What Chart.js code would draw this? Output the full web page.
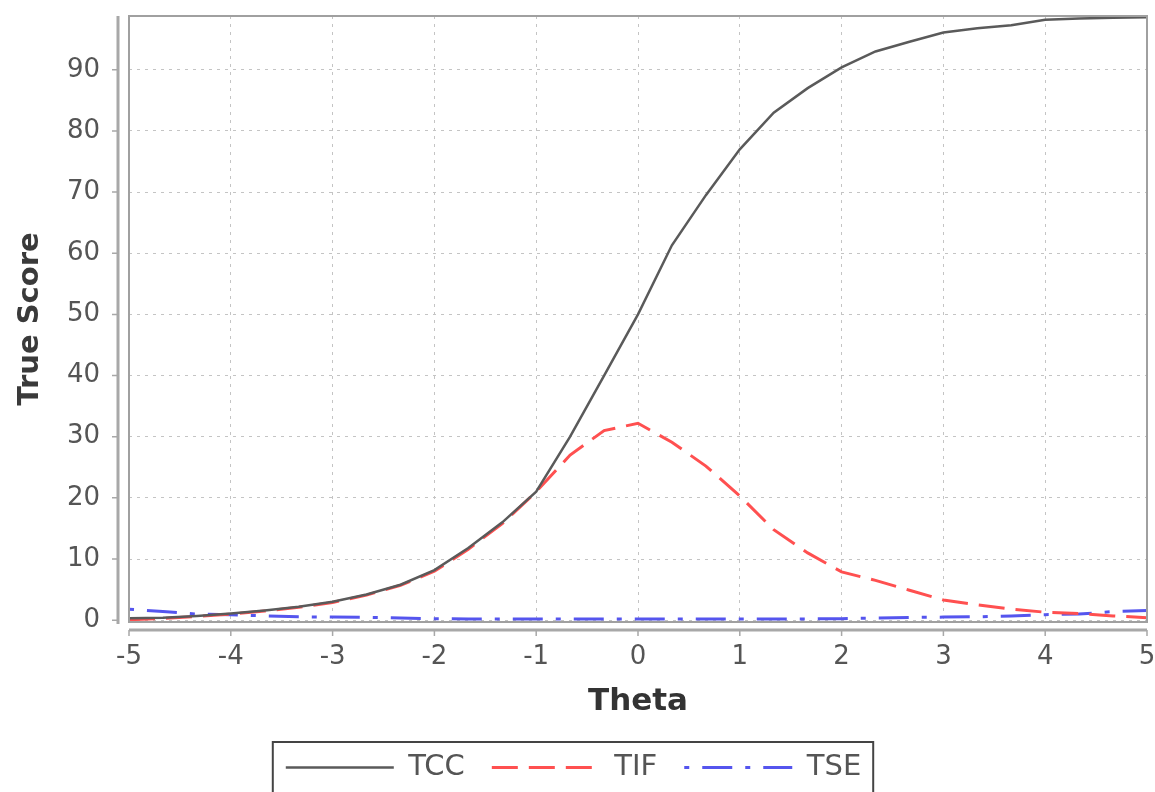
<!DOCTYPE html>
<html>
<head>
<meta charset="utf-8">
<title>TCC / TIF / TSE</title>
<script src="https://cdn.jsdelivr.net/npm/chart.js@4/dist/chart.umd.min.js"></script>
<style>
  body { margin: 0; background: #fff; }
  canvas { display: block; }
</style>
</head>
<body>
<canvas id="myChart" width="1155" height="792"></canvas>
<script>
// start data //
const theta = [-5, -4.667, -4.333, -4, -3.667, -3.333, -3, -2.667, -2.333, -2, -1.667, -1.333, -1, -0.667, -0.333, 0,
  0.333, 0.667, 1, 1.333, 1.667, 2, 2.333, 2.667, 3, 3.333, 3.667, 4, 4.333, 4.667, 5];
const tcc = [0.3, 0.4, 0.7, 1.1, 1.6, 2.2, 3.0, 4.2, 5.8, 8.2, 11.8, 16, 21, 30, 40, 50,
  61.3, 69.5, 77, 83, 87, 90.4, 93, 94.6, 96.1, 96.8, 97.3, 98.2, 98.4, 98.5, 98.6];
const tif = [0.05, 0.3, 0.6, 1.0, 1.5, 2.1, 2.9, 4.1, 5.7, 8.0, 11.6, 15.8, 21, 27, 31, 32.2,
  29.1, 25.2, 20.3, 14.8, 11, 7.9, 6.5, 4.9, 3.3, 2.5, 1.8, 1.3, 1.1, 0.7, 0.4];
const tse = [1.8, 1.4, 1.0, 0.9, 0.7, 0.55, 0.5, 0.45, 0.35, 0.25, 0.2, 0.2, 0.18, 0.18, 0.18, 0.18,
  0.18, 0.18, 0.18, 0.2, 0.2, 0.25, 0.35, 0.45, 0.5, 0.55, 0.7, 0.9, 1.0, 1.4, 1.6];
const xTicks = [-5, -4, -3, -2, -1, 0, 1, 2, 3, 4, 5];
const yTicks = [0, 10, 20, 30, 40, 50, 60, 70, 80, 90];
// end data //

const font = "'DejaVu Sans', sans-serif";

function pts(values) {
  return theta.map((t, i) => ({x: t, y: values[i]}));
}

// no extra room for the end labels, the layout padding does that
function noPad(s) {
  s.paddingTop = 0;
  s.paddingBottom = 0;
  s.paddingLeft = 0;
  s.paddingRight = 0;
}

// plot frame, offset axis lines and the box round the legend
const frame = {
  id: "frame",
  afterDraw(chart) {
    const ctx = chart.ctx;
    const a = chart.chartArea;
    const xs = chart.scales.x, ys = chart.scales.y;
    ctx.save();
    ctx.strokeStyle = "#a0a0a0";
    ctx.lineWidth = 2;
    ctx.strokeRect(a.left, a.top, a.right - a.left, a.bottom - a.top);

    ctx.strokeStyle = "#a8a8a8";
    ctx.lineWidth = 3;
    ctx.beginPath();
    ctx.moveTo(a.left - 11, a.top);
    ctx.lineTo(a.left - 11, a.bottom + 2);
    ctx.moveTo(a.left, a.bottom + 8);
    ctx.lineTo(a.right, a.bottom + 8);
    ctx.stroke();

    ctx.lineWidth = 1.5;
    ctx.beginPath();
    yTicks.forEach(v => {
      const y = ys.getPixelForValue(v);
      ctx.moveTo(a.left - 17, y);
      ctx.lineTo(a.left - 11, y);
    });
    xTicks.forEach(v => {
      const x = xs.getPixelForValue(v);
      ctx.moveTo(x, a.bottom + 8);
      ctx.lineTo(x, a.bottom + 14);
    });
    ctx.stroke();

    const hb = chart.legend.legendHitBoxes;
    if (hb && hb.length) {
      const l = Math.min(...hb.map(h => h.left)) - 13;
      const r = Math.max(...hb.map(h => h.left + h.width)) + 12;
      const t = hb[0].top - 11;
      ctx.strokeStyle = "#444";
      ctx.lineWidth = 2;
      ctx.strokeRect(l, t, r - l, 80);
    }
    ctx.restore();
  }
};

new Chart("myChart", {
  type: "line",
  data: {
    datasets: [
      {label: "TCC", data: pts(tcc), borderColor: "#5a5a5a", borderWidth: 2.5, borderDash: []},
      {label: "TIF", data: pts(tif), borderColor: "#ff5050", borderWidth: 3, borderDash: [26, 11]},
      {label: "TSE", data: pts(tse), borderColor: "#5555ee", borderWidth: 3, borderDash: [5, 13, 30, 13]}
    ]
  },
  options: {
    responsive: false,
    animation: false,
    layout: {padding: {top: 16, right: 8, bottom: 0, left: 0}},
    elements: {point: {radius: 0}, line: {tension: 0}},
    plugins: {
      tooltip: {enabled: false},
      legend: {
        position: "bottom",
        labels: {
          usePointStyle: true,
          pointStyleWidth: 108,
          padding: 27,
          color: "#555",
          font: {family: font, size: 29},
          generateLabels: chart => chart.data.datasets.map((ds, i) => ({
            text: ds.label,
            strokeStyle: ds.borderColor,
            fillStyle: ds.borderColor,
            lineWidth: ds.borderWidth,
            lineDash: ds.borderDash,
            pointStyle: "line",
            fontColor: "#555",
            hidden: false,
            datasetIndex: i
          }))
        }
      }
    },
    scales: {
      x: {
        type: "linear",
        min: -5,
        max: 5,
        afterBuildTicks: s => { s.ticks = xTicks.map(v => ({value: v})); },
        afterFit: s => { s.height = 104; noPad(s); },
        grid: {color: "#c4c4c4", lineWidth: 1, drawTicks: false},
        border: {display: false, dash: [3, 5]},
        ticks: {padding: 20, color: "#555", font: {family: font, size: 26}, maxRotation: 0},
        title: {display: true, text: "Theta", color: "#333", font: {family: font, size: 31, weight: "bold"}, padding: {top: 0, bottom: 5}}
      },
      y: {
        min: -0.3,
        max: 98.8,
        afterBuildTicks: s => { s.ticks = yTicks.map(v => ({value: v})); },
        afterFit: s => { s.width = 129; noPad(s); },
        grid: {color: "#c4c4c4", lineWidth: 1, drawTicks: false},
        border: {display: false, dash: [3, 5]},
        ticks: {padding: 29, color: "#555", font: {family: font, size: 26}},
        title: {display: true, text: "True Score", color: "#3a3a3a", font: {family: font, size: 29, weight: "bold"}, padding: {top: 13, bottom: 0}}
      }
    }
  },
  plugins: [frame]
});
</script>
</body>
</html>
